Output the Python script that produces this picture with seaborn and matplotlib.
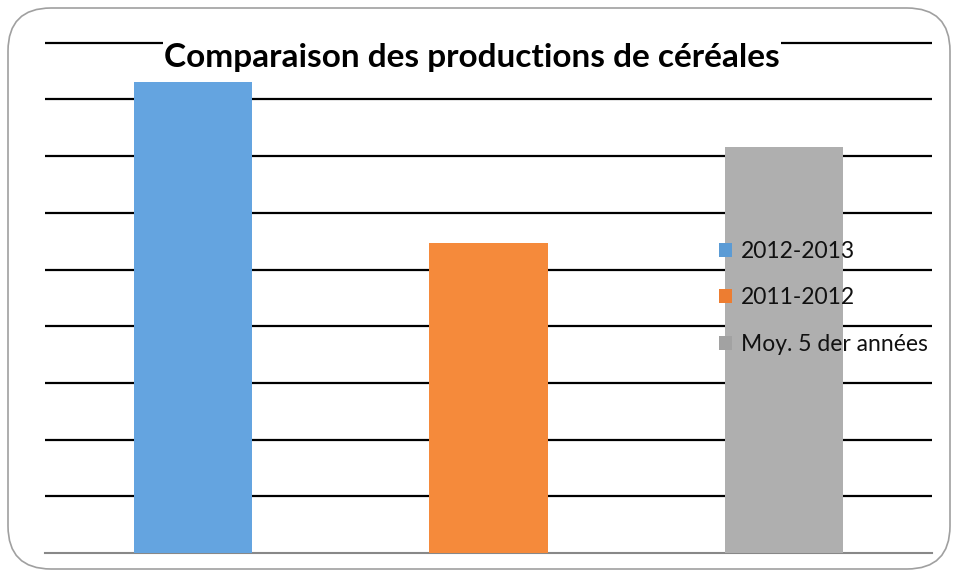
import matplotlib
matplotlib.use("Agg")
import matplotlib.pyplot as plt
from matplotlib.patches import FancyBboxPatch
import seaborn as sns
import pandas as pd

# data (gridline step = 10 units, no tick labels shown)
categories = ["2012-2013", "2011-2012", "Moy. 5 der années"]
values = [83.0, 54.7, 71.6]
colors = ["#64A4E0", "#F58A3B", "#AFAFAF"]
legend_colors = ["#5B9BD5", "#ED7D31", "#A2A2A2"]
title = "Comparaison des productions de céréales"

sns.set_style("white")
plt.rcParams['font.family'] = ['Lato', 'DejaVu Sans']

df = pd.DataFrame({"serie": categories, "valeur": values})

fig = plt.figure(figsize=(9.57, 5.78), dpi=100)
ax = fig.add_axes([45 / 957, 25 / 578, 887 / 957, 0.9457 - 25 / 578])

sns.barplot(data=df, x="serie", y="valeur", hue="serie", palette=colors,
            width=0.4, saturation=1, legend=True, ax=ax, zorder=3,
            linewidth=0)

ax.set_xlim(-0.5, 2.5)
ax.set_ylim(0, 92)
ax.set_yticks(range(10, 91, 10))
ax.yaxis.grid(True, color="black", linewidth=1.6, zorder=1)
ax.set_axisbelow(True)
ax.set_xticks([])
ax.tick_params(left=False, labelleft=False)
ax.set_xlabel("")
ax.set_ylabel("")
for s in ["top", "right", "left"]:
    ax.spines[s].set_visible(False)
ax.spines["bottom"].set_color("#888888")
ax.spines["bottom"].set_linewidth(1.5)

# title with white box over the top gridline
fig.text(472 / 957, 1 - 57 / 578, title, ha="center", va="center",
         fontsize=24, fontweight="bold", color="black",
         bbox=dict(facecolor="white", edgecolor="none", pad=1), zorder=5)

leg = ax.legend(loc="center left", bbox_to_anchor=(708 / 957, 1 - 298 / 578),
                bbox_transform=fig.transFigure, frameon=False, fontsize=16.5,
                handlelength=0.55, handleheight=0.55, handletextpad=0.4,
                labelspacing=1.12, borderpad=0)
for h, c in zip(leg.legend_handles, legend_colors):
    h.set_facecolor(c)
    h.set_edgecolor("none")
for t in leg.get_texts():
    t.set_color("#111111")
leg.set_zorder(6)

# rounded chart border
border = FancyBboxPatch((8 / 957, 9 / 578), 942 / 957, 561 / 578,
                        boxstyle="round,pad=0,rounding_size=0.045",
                        transform=fig.transFigure, facecolor="none",
                        edgecolor="#A0A0A0", linewidth=1.2,
                        mutation_aspect=957 / 578)
fig.patches.append(border)

fig.savefig("out.png", dpi=100)
